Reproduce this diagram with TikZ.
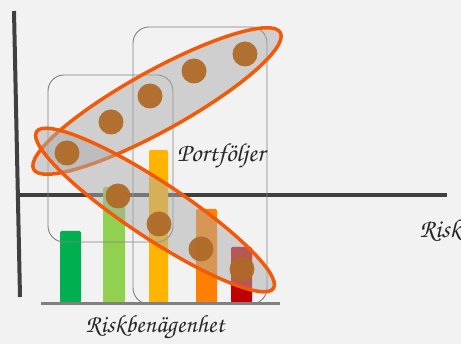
\documentclass[tikz,border=0pt]{standalone}
\usepackage[T1,TU]{fontenc}
\usepackage{xcolor}
\usepackage{tikz}
\usetikzlibrary{calc}

\definecolor{bggray}{HTML}{F2F2F2}
\definecolor{axisgray}{HTML}{404040}
\definecolor{basegray}{HTML}{808080}
\definecolor{barA}{HTML}{00B050}
\definecolor{barB}{HTML}{92D050}
\definecolor{barC}{HTML}{FFB400}
\definecolor{barD}{HTML}{FF8000}
\definecolor{barE}{HTML}{C00000}
\definecolor{ringorange}{HTML}{F25A0A}
\definecolor{dotbrown}{HTML}{B06A28}

\newcommand{\handfont}{\fontencoding{T1}\fontfamily{pzc}\fontseries{mb}\fontshape{it}\selectfont}

\begin{document}
\begin{tikzpicture}[x=1pt,y=-1pt,
	frame/.style={draw=basegray, line width=0.9pt, rounded corners=16pt},
	portf/.style={draw=ringorange, line width=3.5pt, fill=black!32, fill opacity=0.5},
	dot/.style={circle, fill=dotbrown, fill opacity=0.95, minimum size=25pt, inner sep=0pt},
	lbl/.style={font=\handfont\fontsize{26}{28}\selectfont, text=black!85}]
	\fill[bggray] (0,0) rectangle (461,344);
	\useasboundingbox (0,0) rectangle (461,344);
	
	% axes
	\coordinate (ytop) at (14,11);
	\coordinate (ybot) at (20,297);
	\coordinate (xleft) at (18,195);
	\coordinate (xright) at (447,195);
	\draw[axisgray, line width=4pt] (ytop) -- (ybot);
	\draw[axisgray, line width=3.5pt] (xleft) -- (xright);
	
	% bars
	\foreach \c/\l/\r/\t in {barA/60/81/231, barB/103/125/187, barC/149/168/150, barD/196/217/209, barE/231/252/247}
		\fill[\c, rounded corners=1.5pt] (\l,303) rectangle (\r,\t);
	
	\coordinate (bleft) at (41,304);
	\coordinate (bright) at (280,304);
	\draw[basegray, line width=3pt] (bleft) -- (bright);
	
	% frames
	\draw[frame] (48,75) rectangle (173,242);
	\draw[frame] (133,27) rectangle (267,304);
	
	% portfolios
	\coordinate (upc) at (157,101);
	\coordinate (loc) at (155,210);
	\draw[portf, rotate around={29:(upc)}] (upc) ellipse (141pt and 30pt);
	\draw[portf, rotate around={-33.5:(loc)}] (loc) ellipse (142pt and 28pt);
	
	\node[dot] (p1) at (67,153) {};
	\node[dot] (p2) at (111,122) {};
	\node[dot] (p3) at (150,96) {};
	\node[dot] (p4) at (194,71) {};
	\node[dot] (p5) at (245,54) {};
	\node[dot] (p6) at (118,196) {};
	\node[dot] (p7) at (159,224) {};
	\node[dot] (p8) at (201,249) {};
	\node[dot] (p9) at (242,269) {};
	
	\node[lbl] (port) at (221,156) {Portf\"oljer};
	\node[lbl, anchor=west] (risk) at (416,231) {Risk};
	\node[lbl, font=\handfont\fontsize{25}{27}\selectfont] (rben) at (155,327) {Riskben\"agenhet};
\end{tikzpicture}
\end{document}
